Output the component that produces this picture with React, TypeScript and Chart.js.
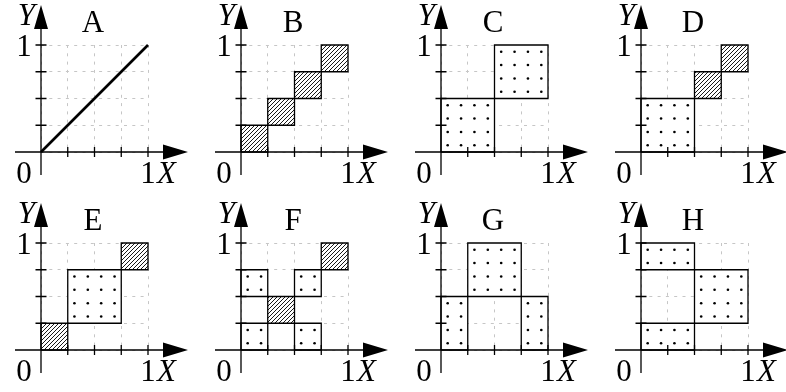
import React, { useEffect, useRef } from 'react';
import { Chart, registerables } from 'chart.js';

Chart.register(...registerables);

// Panel captions, in reading order
const panelNames = ['A', 'B', 'C', 'D', 'E', 'F', 'G', 'H'];

// Tick positions on both unit axes
const tickValues = [0.25, 0.5, 0.75, 1];

// Panel A: the diagonal support
const diagonalA = [
  { x: 0, y: 0 },
  { x: 1, y: 1 },
];

// Cells as [x0, x1, y0, y1, fill]
type Cell = [number, number, number, number, 'hatch' | 'dots'];

const cellsA: Cell[] = [];
const cellsB: Cell[] = [
  [0, 0.25, 0, 0.25, 'hatch'],
  [0.25, 0.5, 0.25, 0.5, 'hatch'],
  [0.5, 0.75, 0.5, 0.75, 'hatch'],
  [0.75, 1, 0.75, 1, 'hatch'],
];
const cellsC: Cell[] = [
  [0, 0.5, 0, 0.5, 'dots'],
  [0.5, 1, 0.5, 1, 'dots'],
];
const cellsD: Cell[] = [
  [0, 0.5, 0, 0.5, 'dots'],
  [0.5, 0.75, 0.5, 0.75, 'hatch'],
  [0.75, 1, 0.75, 1, 'hatch'],
];
const cellsE: Cell[] = [
  [0, 0.25, 0, 0.25, 'hatch'],
  [0.25, 0.75, 0.25, 0.75, 'dots'],
  [0.75, 1, 0.75, 1, 'hatch'],
];
const cellsF: Cell[] = [
  [0, 0.25, 0, 0.25, 'dots'],
  [0, 0.25, 0.5, 0.75, 'dots'],
  [0.25, 0.5, 0.25, 0.5, 'hatch'],
  [0.5, 0.75, 0, 0.25, 'dots'],
  [0.5, 0.75, 0.5, 0.75, 'dots'],
  [0.75, 1, 0.75, 1, 'hatch'],
];
const cellsG: Cell[] = [
  [0, 0.25, 0, 0.5, 'dots'],
  [0.25, 0.75, 0.5, 1, 'dots'],
  [0.75, 1, 0, 0.5, 'dots'],
];
const cellsH: Cell[] = [
  [0, 0.5, 0.75, 1, 'dots'],
  [0.5, 1, 0.25, 0.75, 'dots'],
  [0, 0.5, 0, 0.25, 'dots'],
];

const panelCells: Cell[][] = [cellsA, cellsB, cellsC, cellsD, cellsE, cellsF, cellsG, cellsH];

// Spacing of the dot texture inside dotted cells
const DOT_STEP = 1 / 8;

const FONT_PX = 31;
const SERIF = '"Liberation Serif"';

function makeHatch(): CanvasPattern | string {
  const c = document.createElement('canvas');
  c.width = 4;
  c.height = 4;
  const g = c.getContext('2d');
  if (!g) return '#fff';
  g.fillStyle = '#fff';
  g.fillRect(0, 0, 4, 4);
  g.strokeStyle = '#000';
  g.lineWidth = 0.9;
  g.beginPath();
  g.moveTo(-1, 5);
  g.lineTo(5, -1);
  g.moveTo(-1, 1);
  g.lineTo(1, -1);
  g.moveTo(3, 5);
  g.lineTo(5, 3);
  g.stroke();
  return g.createPattern(c, 'repeat') || '#fff';
}

function dotTexture(cells: Cell[]) {
  const pts: { x: number; y: number }[] = [];
  cells.forEach(([x0, x1, y0, y1, kind]) => {
    if (kind !== 'dots') return;
    for (let x = x0 + DOT_STEP / 2; x < x1; x += DOT_STEP) {
      for (let y = y0 + DOT_STEP / 2; y < y1; y += DOT_STEP) {
        pts.push({ x, y });
      }
    }
  });
  return pts;
}

function axesDecor(name: string) {
  return {
    id: 'axesDecor',
    afterDatasetsDraw(chart: any) {
      const { ctx } = chart;
      const xs = chart.scales.x;
      const ys = chart.scales.y;
      const ox = xs.getPixelForValue(0);
      const oy = ys.getPixelForValue(0);
      const x1 = xs.getPixelForValue(1);
      const y1 = ys.getPixelForValue(1);
      ctx.save();
      ctx.strokeStyle = '#000';
      ctx.fillStyle = '#000';
      ctx.lineWidth = 1.3;
      ctx.beginPath();
      ctx.moveTo(ox - 26, oy);
      ctx.lineTo(ox + 126, oy);
      ctx.moveTo(ox, oy + 23);
      ctx.lineTo(ox, oy - 126);
      tickValues.forEach((t) => {
        const px = xs.getPixelForValue(t);
        ctx.moveTo(px, oy - 5);
        ctx.lineTo(px, oy + 5);
        const py = ys.getPixelForValue(t);
        ctx.moveTo(ox - 5.5, py);
        ctx.lineTo(ox + 5.5, py);
      });
      ctx.stroke();

      // arrow heads
      ctx.beginPath();
      ctx.moveTo(ox + 147, oy);
      ctx.lineTo(ox + 122, oy - 7.5);
      ctx.lineTo(ox + 122, oy + 7.5);
      ctx.closePath();
      ctx.moveTo(ox, oy - 147);
      ctx.lineTo(ox - 7, oy - 123);
      ctx.lineTo(ox + 7, oy - 123);
      ctx.closePath();
      ctx.fill();

      // labels
      ctx.font = `${FONT_PX}px ${SERIF}`;
      ctx.textBaseline = 'alphabetic';
      ctx.textAlign = 'center';
      ctx.fillText('0', ox - 17, oy + 30.5);
      ctx.fillText('1', x1, oy + 30.5);
      ctx.fillText('1', ox - 17, y1 + 10.5);
      ctx.fillText(name, ox + 52, y1 - 13);
      ctx.font = `italic ${FONT_PX}px ${SERIF}`;
      ctx.textAlign = 'left';
      ctx.fillText('X', x1 + 9, oy + 30.5);
      ctx.textAlign = 'right';
      ctx.fillText('Y', ox - 6, oy - 127);
      ctx.restore();
    },
  };
}

function Panel({ index }: { index: number }) {
  const ref = useRef<HTMLCanvasElement | null>(null);
  useEffect(() => {
    const canvas = ref.current;
    if (!canvas) return;
    const cells = panelCells[index];
    const hatch = makeHatch();
    const datasets: any[] = cells.map(([x0, x1, y0, y1, kind]) => ({
      data: [
        { x: x0, y: y0 },
        { x: x1, y: y0 },
        { x: x1, y: y1 },
        { x: x0, y: y1 },
        { x: x0, y: y0 },
      ],
      showLine: true,
      fill: 'shape',
      backgroundColor: kind === 'hatch' ? hatch : '#ffffff',
      borderColor: '#000',
      borderWidth: 1.3,
      borderJoinStyle: 'miter',
      pointRadius: 0,
      clip: false,
    }));
    const dots = dotTexture(cells);
    if (dots.length) {
      datasets.push({
        data: dots,
        showLine: false,
        pointRadius: 1.3,
        pointBackgroundColor: '#000',
        pointBorderWidth: 0,
        clip: false,
      });
    }
    if (index === 0) {
      datasets.push({
        data: diagonalA,
        showLine: true,
        borderColor: '#000',
        borderWidth: 2.6,
        pointRadius: 0,
        fill: false,
        clip: false,
      });
    }
    const axis = {
      type: 'linear',
      min: 0,
      max: 1,
      ticks: { display: false, stepSize: 0.25 },
      grid: { color: '#c6c6c6', lineWidth: 1, drawTicks: false },
      border: { display: false, dash: [3, 5.3] },
    };
    const chart = new Chart(canvas, {
      type: 'scatter',
      data: { datasets },
      options: {
        animation: false,
        responsive: false,
        devicePixelRatio: 1,
        events: [],
        layout: { padding: { left: 41, top: 45, right: 52, bottom: 46 } },
        scales: { x: axis as any, y: axis as any },
        plugins: {
          legend: { display: false },
          tooltip: { enabled: false },
          filler: { drawTime: 'beforeDatasetsDraw' },
        },
      } as any,
      plugins: [axesDecor(panelNames[index])],
    });
    // redraw once the serif face is available to the canvas
    let alive = true;
    if (document.fonts) {
      Promise.all([
        document.fonts.load(`${FONT_PX}px ${SERIF}`, '01ABCDEFGH'),
        document.fonts.load(`italic ${FONT_PX}px ${SERIF}`, 'XY'),
      ])
        .catch(() => undefined)
        .then(() => {
          if (alive) chart.draw();
        });
    }
    return () => {
      alive = false;
      chart.destroy();
    };
  }, [index]);
  const col = index % 4;
  const row = Math.floor(index / 4);
  return (
    <canvas
      ref={ref}
      width={200}
      height={198}
      style={{ position: 'absolute', left: col * 200, top: row * 198, width: 200, height: 198 }}
    />
  );
}

export default function App() {
  return (
    <div
      style={{
        position: 'absolute',
        left: 0,
        top: 0,
        width: 786,
        height: 392,
        overflow: 'hidden',
        background: '#fff',
        fontFamily: SERIF,
      }}
    >
      {panelNames.map((_, i) => (
        <Panel key={i} index={i} />
      ))}
    </div>
  );
}
